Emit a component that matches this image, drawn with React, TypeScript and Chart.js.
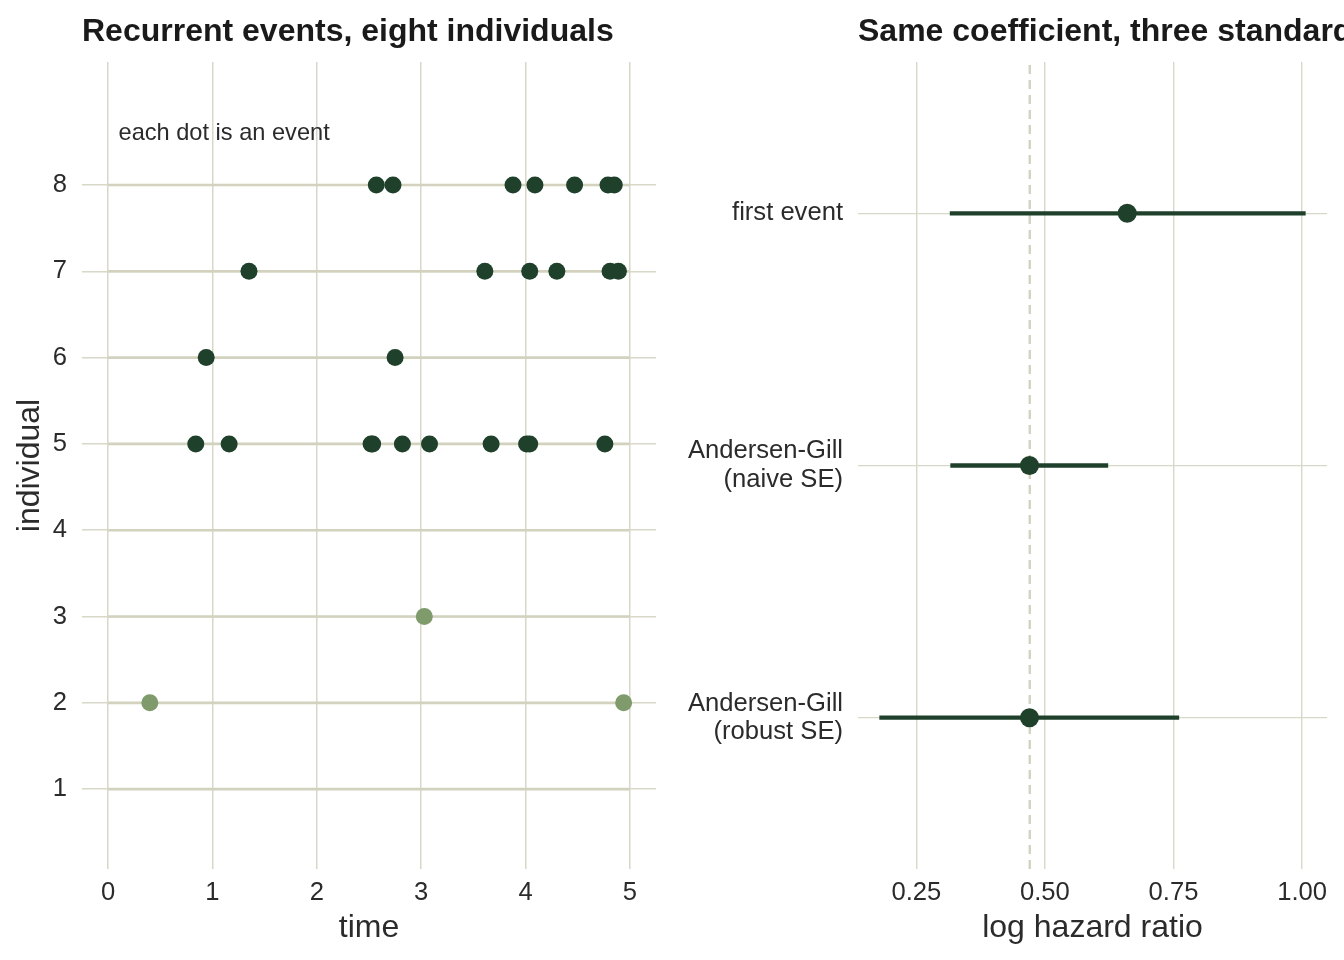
import React, { useEffect, useRef } from "react";
import { Chart, registerables } from "chart.js";

Chart.register(...registerables);

const FONT = '"Liberation Sans", Arial, Helvetica, sans-serif';
const DARK = "#1f402a";
const LIGHT = "#7f9a6b";
const GRID = "#d8d8c9";
const SEGMENT = "#d2d2bf";
const REF_LINE = "#d3d3c2";
const TEXT = "#2b2b2b";
const TITLE = "#1a1a1a";

// ---- Left panel: recurrent events per individual ----
const individualIds = [1, 2, 3, 4, 5, 6, 7, 8];
const eventTimes: number[][] = [
  [],
  [0.4, 4.94],
  [3.03],
  [],
  [0.84, 1.16, 2.52, 2.535, 2.82, 3.08, 3.67, 4.01, 4.04, 4.76],
  [0.94, 2.75],
  [1.35, 3.61, 4.04, 4.3, 4.81, 4.89],
  [2.57, 2.73, 3.88, 4.09, 4.47, 4.79, 4.85],
];
const highlightedIds = [2, 3];
const followUpStart = [0, 0, 0, 0, 0, 0, 0, 0];
const followUpEnd = [5, 5, 5, 5, 5, 5, 5, 5];
const timeTicks = [0, 1, 2, 3, 4, 5];
const noteText = "each dot is an event";
const noteX = 0.1;
const noteY = 8.6;

// ---- Right panel: coefficient estimates with intervals ----
const modelLabels: (string | string[])[] = [
  "first event",
  ["Andersen-Gill", "(naive SE)"],
  ["Andersen-Gill", "(robust SE)"],
];
const modelRows = [3, 2, 1];
const estimates = [0.66, 0.47, 0.47];
const lowerCI = [0.315, 0.316, 0.178];
const upperCI = [1.007, 0.623, 0.761];
const referenceValue = 0.4705;
const hazardTicks = [0.25, 0.5, 0.75, 1.0];

// Panel title (left-aligned to the plotting area) and optional text note
const panelText = {
  id: "panelText",
  afterDraw(chart: any, _args: any, opts: any) {
    const { ctx, chartArea } = chart;
    ctx.save();
    ctx.font = `bold 32px ${FONT}`;
    ctx.fillStyle = TITLE;
    ctx.textAlign = "left";
    ctx.textBaseline = "alphabetic";
    ctx.fillText(opts.title, chartArea.left, 41);
    if (opts.note) {
      const xs = chart.scales.x;
      const ys = chart.scales.y;
      ctx.font = `23.6px ${FONT}`;
      ctx.fillStyle = TEXT;
      ctx.textBaseline = "middle";
      ctx.fillText(opts.note.text, xs.getPixelForValue(opts.note.x), ys.getPixelForValue(opts.note.y));
    }
    ctx.restore();
  },
};

const tickFont = { family: FONT, size: 25.6 };
const axisTitleFont = { family: FONT, size: 32 };

function fixedTicks(values: number[]) {
  return (scale: any) => {
    scale.ticks = values.map((v) => ({ value: v }));
  };
}

function buildEventsChart(canvas: HTMLCanvasElement) {
  const darkPts: { x: number; y: number }[] = [];
  const lightPts: { x: number; y: number }[] = [];
  individualIds.forEach((id, i) => {
    eventTimes[i].forEach((t) => {
      (highlightedIds.includes(id) ? lightPts : darkPts).push({ x: t, y: id });
    });
  });

  const segments = individualIds.map((id, i) => ({
    data: [
      { x: followUpStart[i], y: id },
      { x: followUpEnd[i], y: id },
    ],
    showLine: true,
    borderColor: SEGMENT,
    borderWidth: 2.6,
    pointRadius: 0,
    order: 5,
  }));

  return new Chart(canvas, {
    type: "scatter",
    data: {
      datasets: [
        { data: darkPts, pointRadius: 8.5, backgroundColor: DARK, borderWidth: 0, order: 0 },
        { data: lightPts, pointRadius: 8.5, backgroundColor: LIGHT, borderWidth: 0, order: 1 },
        ...segments,
      ] as any,
    },
    options: {
      responsive: false,
      animation: false,
      events: [],
      layout: { padding: { top: 62, right: 16, bottom: 0, left: 0 } },
      plugins: {
        legend: { display: false },
        tooltip: { enabled: false },
        panelText: {
          title: "Recurrent events, eight individuals",
          note: { text: noteText, x: noteX, y: noteY },
        },
      } as any,
      scales: {
        x: {
          type: "linear",
          min: -0.25,
          max: 5.25,
          afterBuildTicks: fixedTicks(timeTicks),
          afterFit: (s: any) => {
            s.height = 91;
          },
          grid: { color: GRID, lineWidth: 1.5, drawTicks: false },
          border: { display: false },
          ticks: { font: tickFont, color: TEXT, padding: 8.5 },
          title: {
            display: true,
            text: "time",
            font: axisTitleFont,
            color: TEXT,
            padding: { top: 0, bottom: 13 },
          },
        },
        y: {
          type: "linear",
          min: 0.075,
          max: 9.425,
          afterBuildTicks: fixedTicks(individualIds),
          afterFit: (s: any) => {
            s.width = 82;
          },
          grid: { color: GRID, lineWidth: 1.5, drawTicks: false },
          border: { display: false },
          ticks: { font: tickFont, color: TEXT, padding: 15 },
          title: {
            display: true,
            text: "individual",
            font: axisTitleFont,
            color: TEXT,
            padding: { top: 11, bottom: 0 },
          },
        },
      },
    },
    plugins: [panelText],
  });
}

function buildCoefChart(canvas: HTMLCanvasElement) {
  const points = modelRows.map((row, i) => ({ x: estimates[i], y: row }));
  const intervals = modelRows.map((row, i) => ({
    data: [
      { x: lowerCI[i], y: row },
      { x: upperCI[i], y: row },
    ],
    showLine: true,
    borderColor: DARK,
    borderWidth: 4.3,
    pointRadius: 0,
    borderCapStyle: "butt",
    order: 2,
  }));

  return new Chart(canvas, {
    type: "scatter",
    data: {
      datasets: [
        { data: points, pointRadius: 9.5, backgroundColor: DARK, borderWidth: 0, order: 0 },
        ...intervals,
        {
          data: [
            { x: referenceValue, y: 0.4 },
            { x: referenceValue, y: 3.6 },
          ],
          showLine: true,
          borderColor: REF_LINE,
          borderWidth: 2.4,
          borderDash: [9, 6],
          pointRadius: 0,
          order: 6,
        },
      ] as any,
    },
    options: {
      responsive: false,
      animation: false,
      events: [],
      layout: { padding: { top: 62, right: 17, bottom: 0, left: 0 } },
      plugins: {
        legend: { display: false },
        tooltip: { enabled: false },
        panelText: { title: "Same coefficient, three standard errors" },
      } as any,
      scales: {
        x: {
          type: "linear",
          min: 0.1365,
          max: 1.0485,
          afterBuildTicks: fixedTicks(hazardTicks),
          afterFit: (s: any) => {
            s.height = 91;
          },
          grid: { color: GRID, lineWidth: 1.4, drawTicks: false },
          border: { display: false },
          ticks: {
            font: tickFont,
            color: TEXT,
            padding: 8.5,
            callback: (v: any) => Number(v).toFixed(2),
          },
          title: {
            display: true,
            text: "log hazard ratio",
            font: axisTitleFont,
            color: TEXT,
            padding: { top: 0, bottom: 13 },
          },
        },
        y: {
          type: "linear",
          min: 0.4,
          max: 3.6,
          afterBuildTicks: fixedTicks(modelRows),
          afterFit: (s: any) => {
            s.width = 186;
          },
          grid: { color: GRID, lineWidth: 1.3, drawTicks: false },
          border: { display: false },
          ticks: {
            font: { ...tickFont, lineHeight: 1.1 },
            color: TEXT,
            padding: 15,
            callback: (v: any) => {
              const i = modelRows.indexOf(Number(v));
              return i >= 0 ? modelLabels[i] : "";
            },
          },
        },
      },
    },
    plugins: [panelText],
  });
}

export default function App() {
  const leftRef = useRef<HTMLCanvasElement>(null);
  const rightRef = useRef<HTMLCanvasElement>(null);

  useEffect(() => {
    if (!leftRef.current || !rightRef.current) return;
    const left = buildEventsChart(leftRef.current);
    const right = buildCoefChart(rightRef.current);
    return () => {
      left.destroy();
      right.destroy();
    };
  }, []);

  return (
    <div
      style={{
        position: "absolute",
        left: 0,
        top: 0,
        width: 1344,
        height: 960,
        overflow: "hidden",
        background: "#ffffff",
      }}
    >
      <canvas
        ref={leftRef}
        width={672}
        height={960}
        style={{ position: "absolute", left: 0, top: 0, width: 672, height: 960 }}
      />
      <canvas
        ref={rightRef}
        width={672}
        height={960}
        style={{ position: "absolute", left: 672, top: 0, width: 672, height: 960 }}
      />
    </div>
  );
}
